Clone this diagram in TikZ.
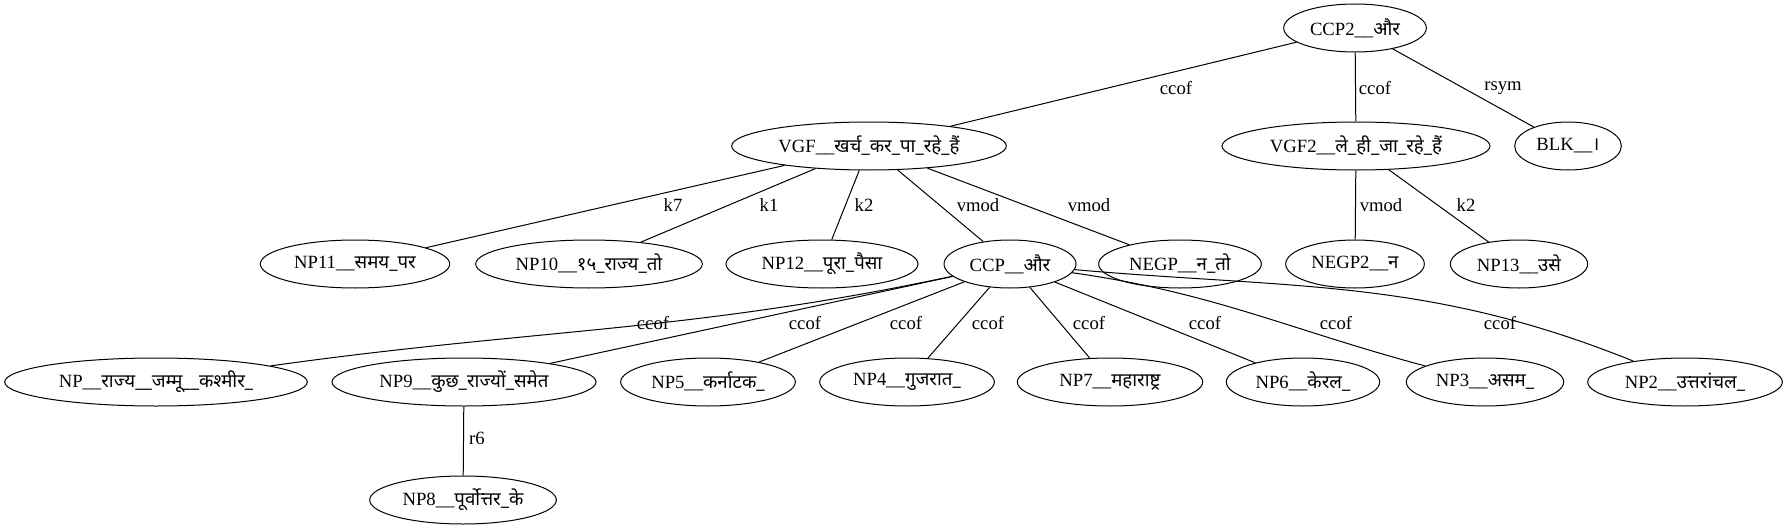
\documentclass[tikz,border=0pt]{standalone}
\usepackage{fontspec}
\setmainfont{Liberation Serif}
\newfontfamily\devfont[Script=Devanagari]{Noto Sans}
\newcommand{\hin}[1]{{\devfont #1}}
\usepackage{tikz}
\usetikzlibrary{shapes.geometric}

\begin{document}
\begin{tikzpicture}[x=0.75pt, y=0.75pt, line width=0.75pt,
        dep/.style = {draw,
            ellipse,
            inner sep=1pt,
            minimum height=36pt,
            font=\fontsize{14}{17}\selectfont},
        rel/.style = {inner sep=0pt,
            font=\fontsize{14}{17}\selectfont}]

    \useasboundingbox[fill=white] (0,0) rectangle (1788,-528);

    % Root
    \node[dep, minimum width=107pt] (ccp2) at (1355,-28) {CCP2\_\_\hin{और}};

    % Second rank
    \node[dep, minimum width=206pt] (vgf) at (869,-146) {VGF\_\_\hin{खर्च\_कर\_पा\_रहे\_हैं}};
    \node[dep, minimum width=201pt] (vgf2) at (1356,-146) {VGF2\_\_\hin{ले\_ही\_जा\_रहे\_हैं}};
    \node[dep, minimum width=80pt] (blk) at (1568,-146) {BLK\_\_\hin{।}};

    % Third rank
    \node[dep, minimum width=142pt] (np11) at (355,-264) {NP11\_\_\hin{समय\_पर}};
    \node[dep, minimum width=170pt] (np10) at (589,-264) {NP10\_\_\hin{१५\_राज्य\_तो}};
    \node[dep, minimum width=144pt] (np12) at (822,-264) {NP12\_\_\hin{पूरा\_पैसा}};
    \node[dep, minimum width=99pt] (ccp) at (1010,-264) {CCP\_\_\hin{और}};
    \node[dep, minimum width=122pt] (negp) at (1180,-264) {NEGP\_\_\hin{न\_तो}};
    \node[dep, minimum width=104pt] (negp2) at (1355,-264) {NEGP2\_\_\hin{न}};
    \node[dep, minimum width=103pt] (np13) at (1519,-264) {NP13\_\_\hin{उसे}};

    % Fourth rank
    \node[dep, minimum width=227pt] (npjk) at (156,-382) {NP\_\_\hin{राज्य\_\_जम्मू\_\_कश्मीर\_}};
    \node[dep, minimum width=198pt] (np9) at (464,-382) {NP9\_\_\hin{कुछ\_राज्यों\_समेत}};
    \node[dep, minimum width=131pt] (np5) at (708,-382) {NP5\_\_\hin{कर्नाटक\_}};
    \node[dep, minimum width=131pt] (np4) at (907,-382) {NP4\_\_\hin{गुजरात\_}};
    \node[dep, minimum width=139pt] (np7) at (1110,-382) {NP7\_\_\hin{महाराष्ट्र}};
    \node[dep, minimum width=115pt] (np6) at (1303,-382) {NP6\_\_\hin{केरल\_}};
    \node[dep, minimum width=118pt] (np3) at (1485,-382) {NP3\_\_\hin{असम\_}};
    \node[dep, minimum width=146pt] (np2) at (1685,-382) {NP2\_\_\hin{उत्तरांचल\_}};

    % Fifth rank
    \node[dep, minimum width=140pt] (np8) at (463,-500) {NP8\_\_\hin{पूर्वोत्तर\_के}};

    % Arcs
    \draw (ccp2) -- (vgf);
    \draw (ccp2) -- (vgf2);
    \draw (ccp2) -- (blk);
    \draw (vgf) -- (np11);
    \draw (vgf) -- (np10);
    \draw (vgf) -- (np12);
    \draw (vgf) -- (ccp);
    \draw (vgf) -- (negp);
    \draw (vgf2) -- (negp2);
    \draw (vgf2) -- (np13);
    \draw (ccp) to[out=192, in=8] (npjk);
    \draw (ccp) -- (np9);
    \draw (ccp) -- (np5);
    \draw (ccp) -- (np4);
    \draw (ccp) -- (np7);
    \draw (ccp) -- (np6);
    \draw (ccp) to[out=-8, in=165] (np3);
    \draw (ccp) to[out=-5, in=158] (np2);
    \draw (np9) -- (np8);

    % Arc labels
    \node[rel] (l-ccof1) at (1176,-88) {ccof};
    \node[rel] (l-ccof2) at (1375,-88) {ccof};
    \node[rel] (l-rsym) at (1503,-88) {rsym};
    \node[rel] (l-k7) at (673,-205) {k7};
    \node[rel] (l-k1) at (769,-205) {k1};
    \node[rel] (l-k2a) at (864,-205) {k2};
    \node[rel] (l-vmod1) at (978,-205) {vmod};
    \node[rel] (l-vmod2) at (1089,-205) {vmod};
    \node[rel] (l-vmod3) at (1381,-205) {vmod};
    \node[rel] (l-k2b) at (1466,-205) {k2};
    \node[rel] (l-ccof3) at (653,-323) {ccof};
    \node[rel] (l-ccof4) at (805,-323) {ccof};
    \node[rel] (l-ccof5) at (906,-323) {ccof};
    \node[rel] (l-ccof6) at (988,-323) {ccof};
    \node[rel] (l-ccof7) at (1089,-323) {ccof};
    \node[rel] (l-ccof8) at (1205,-323) {ccof};
    \node[rel] (l-ccof9) at (1336,-323) {ccof};
    \node[rel] (l-ccof10) at (1500,-323) {ccof};
    \node[rel] (l-r6) at (477,-438) {r6};

\end{tikzpicture}
\end{document}
